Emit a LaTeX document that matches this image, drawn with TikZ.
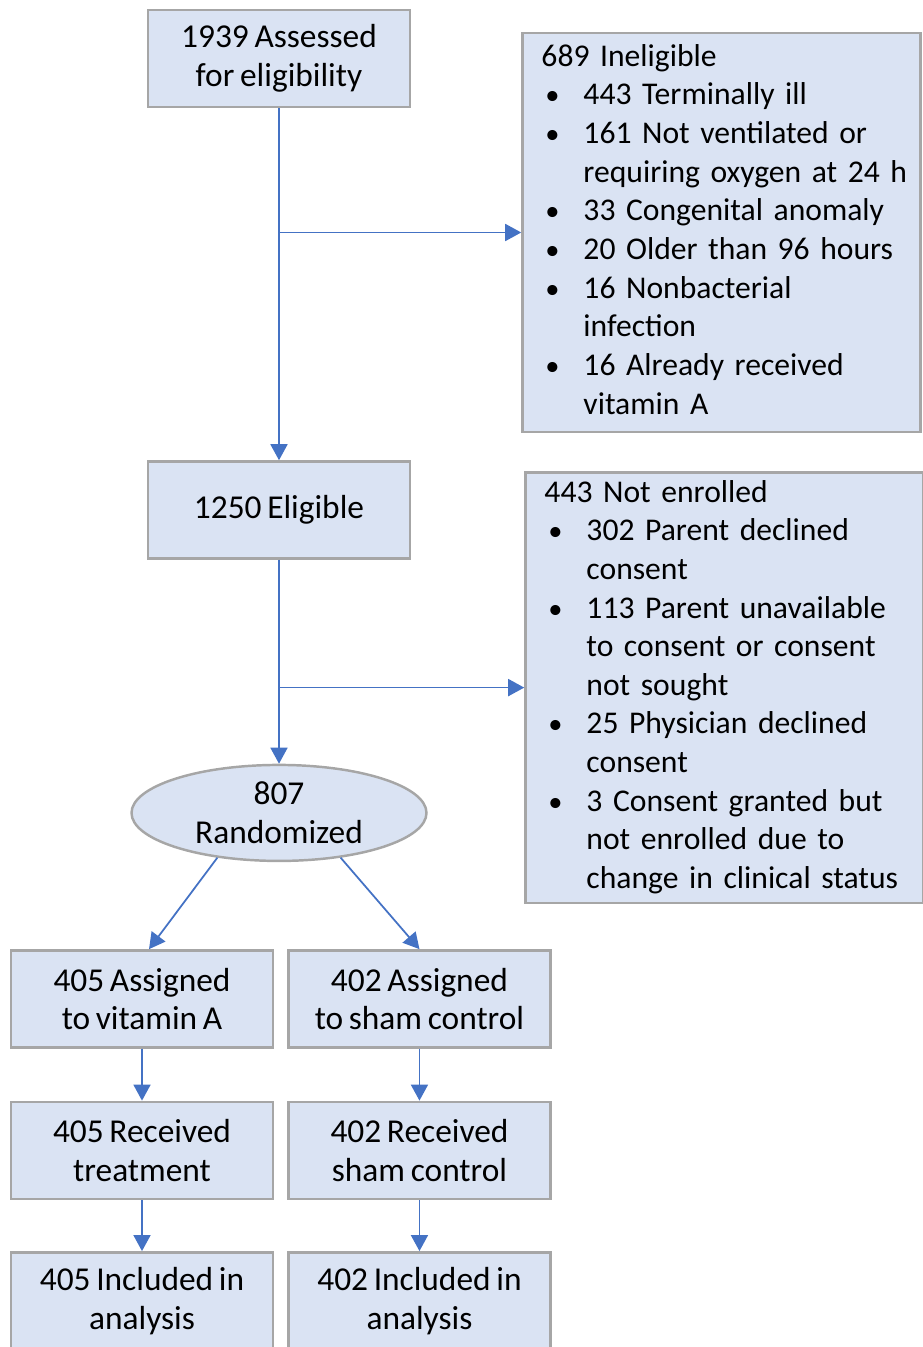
\documentclass[tikz,border=0pt]{standalone}
\usepackage{fontspec}
\setmainfont{Carlito}[WordSpace=0.75]
\usetikzlibrary{arrows.meta, positioning, shapes}
\definecolor{colorFill}{RGB}{218, 227, 243}
\definecolor{colorEdge}{RGB}{166, 166, 166}
\definecolor{colorArrow}{RGB}{68, 114, 196}

\begin{document}
\begin{tikzpicture}[
  box/.style={draw=colorEdge,line width=1.4pt,fill=colorFill,minimum width=5.24cm,
    minimum height=1.94cm,align=center,font=\fontsize{19}{22}\selectfont},
  lbox/.style={draw=colorEdge,line width=1.4pt,fill=colorFill,text width=7.2cm,
    inner xsep=0.38cm,inner ysep=0.05cm,align=left,font=\fontsize{18}{22}\selectfont},
  ebox/.style={ellipse,draw=colorEdge,line width=1.4pt,fill=colorFill,minimum width=5.9cm,
    minimum height=1.92cm,inner sep=0pt,align=center,font=\fontsize{19}{22}\selectfont},
  arr/.style={-{Triangle[length=0.32cm,width=0.34cm]},line width=1pt,colorArrow},
  node distance=1.04cm and 0.26cm,
]
\useasboundingbox (0,0) rectangle (18.44,-26.94);

% Screening
\node[box] (assess) at (5.58,-1.17) {1939 Assessed\\for eligibility};
\node[box, below=7.04cm of assess] (elig) {1250 Eligible};

% Exclusions
\node[lbox, minimum height=7.98cm, right=2.2cm of assess.north east, anchor=north west,
  yshift=-0.46cm] (inel) {%
  \begin{tabular}{@{}p{0.84cm}@{}l@{}}
  \multicolumn{2}{@{}l@{}}{689 Ineligible}\\
  \hspace{0.08cm}\scalebox{0.9}{\textbullet} & 443 Terminally ill\\
  \hspace{0.08cm}\scalebox{0.9}{\textbullet} & 161 Not ventilated or\\
   & requiring oxygen at 24 h\\
  \hspace{0.08cm}\scalebox{0.9}{\textbullet} & 33 Congenital anomaly\\
  \hspace{0.08cm}\scalebox{0.9}{\textbullet} & 20 Older than 96 hours\\
  \hspace{0.08cm}\scalebox{0.9}{\textbullet} & 16 Nonbacterial\\
   & infection\\
  \hspace{0.08cm}\scalebox{0.9}{\textbullet} & 16 Already received\\
   & vitamin A
  \end{tabular}};
\node[lbox, minimum height=8.6cm, right=2.26cm of elig.north east, anchor=north west,
  yshift=-0.22cm] (notenr) {%
  \begin{tabular}{@{}p{0.84cm}@{}l@{}}
  \multicolumn{2}{@{}l@{}}{443 Not enrolled}\\
  \hspace{0.08cm}\scalebox{0.9}{\textbullet} & 302 Parent declined\\
   & consent\\
  \hspace{0.08cm}\scalebox{0.9}{\textbullet} & 113 Parent unavailable\\
   & to consent or consent\\
   & not sought\\
  \hspace{0.08cm}\scalebox{0.9}{\textbullet} & 25 Physician declined\\
   & consent\\
  \hspace{0.08cm}\scalebox{0.9}{\textbullet} & 3 Consent granted but\\
   & not enrolled due to\\
   & change in clinical status
  \end{tabular}};

% Randomization
\node[ebox, below=4.08cm of elig] (rand) {807\\Randomized};

% Arms
\node[box, below=1.74cm of rand, xshift=-2.74cm] (vitA) {405 Assigned\\to vitamin A};
\node[box, right=of vitA] (sham) {402 Assigned\\to sham control};
\node[box, below=of vitA] (recvA) {405 Received\\treatment};
\node[box, below=of sham] (recvS) {402 Received\\sham control};
\node[box, below=1.02cm of recvA] (inclA) {405 Included in\\analysis};
\node[box, below=1.02cm of recvS] (inclS) {402 Included in\\analysis};

% Branch points
\coordinate (br1) at (assess.south |- inel.west);
\coordinate (br2) at (elig.south |- notenr.west);

% Arrows
\draw[arr] (assess) -- (elig);
\draw[arr] (br1) -- (inel.west);
\draw[arr] (elig) -- (rand);
\draw[arr] (br2) -- (notenr.west);

\draw[arr] (rand.216) -- ([xshift=0.14cm]vitA.north);
\draw[arr] (rand.324) -- (sham.north);

\draw[arr] (vitA) -- (recvA);
\draw[arr] (recvA) -- (inclA);
\draw[arr] (sham) -- (recvS);
\draw[arr] (recvS) -- (inclS);

\end{tikzpicture}
\end{document}
